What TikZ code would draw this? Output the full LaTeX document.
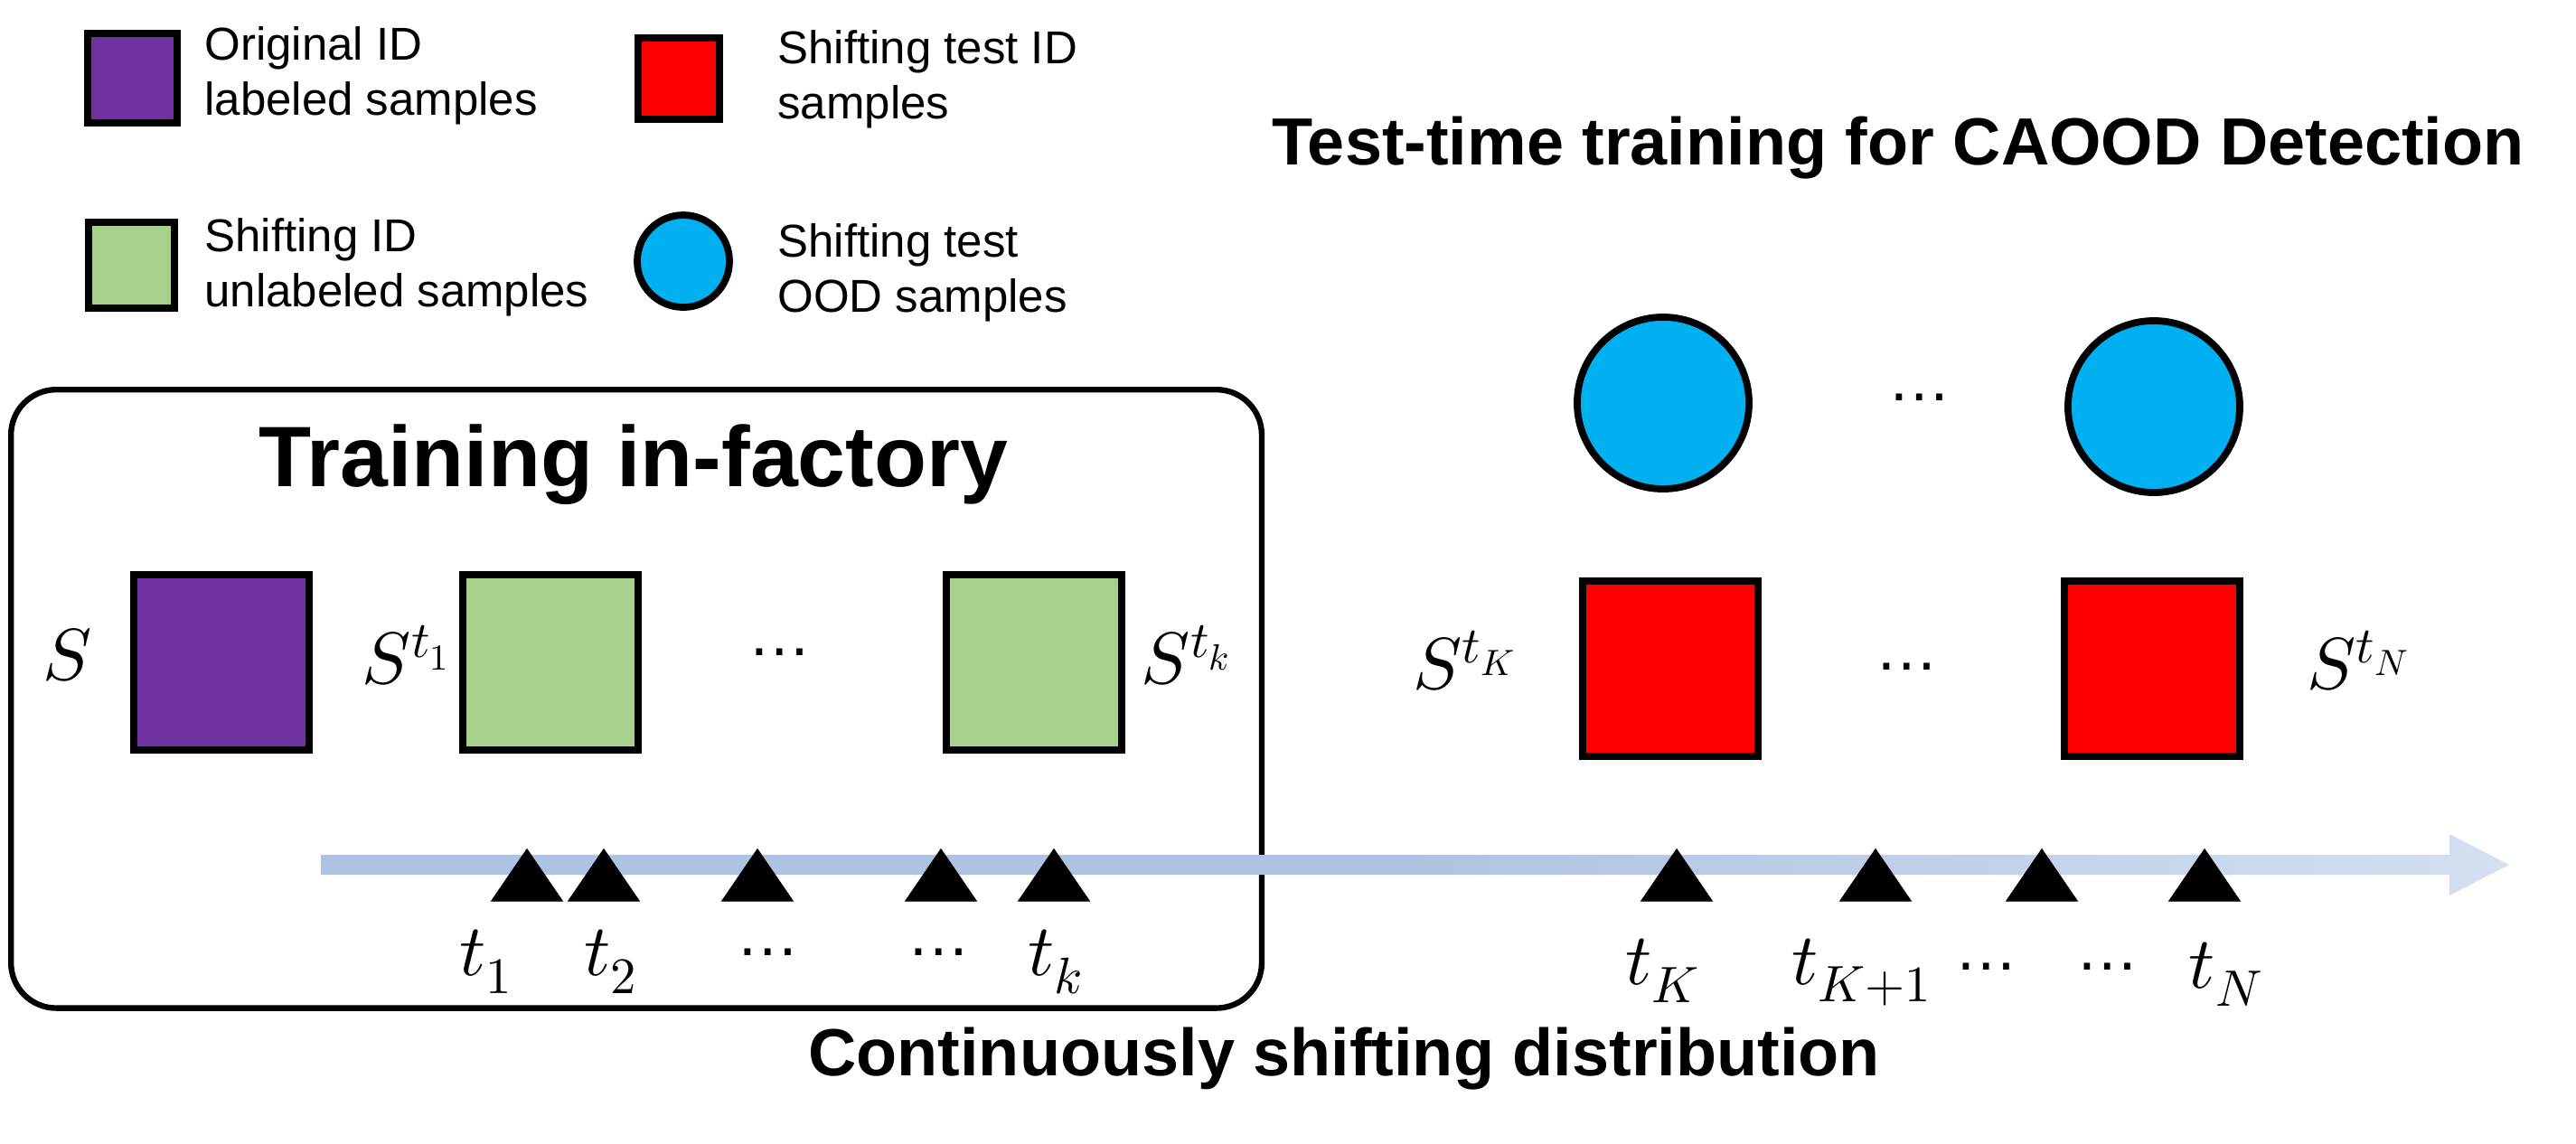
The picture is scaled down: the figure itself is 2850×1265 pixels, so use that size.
\documentclass[tikz,border=0pt]{standalone}
\usepackage{fontspec}
\setmainfont{Liberation Sans}
\usepackage{unicode-math}
\begin{document}
\begin{tikzpicture}[x=0.01cm,y=-0.01cm,
  sq/.style={draw=black,line width=2.2pt,minimum width=#1*0.01cm,minimum height=#1*0.01cm,inner sep=0,anchor=north west},
  leg/.style={font=\fontsize{14.5}{17.5}\selectfont,align=left,anchor=west},
  mth/.style={font=\fontsize{23}{26}\selectfont},
  dts/.style={font=\fontsize{20}{24}\selectfont},
  tri/.style={fill=black,draw=black},
  big/.style={font=\bfseries\fontsize{21}{24}\selectfont}]
\definecolor{purp}{RGB}{112,48,160}
\definecolor{grn}{RGB}{169,209,142}
\definecolor{cy}{RGB}{0,176,240}
\definecolor{ar}{RGB}{160,184,222}
\useasboundingbox (0,0) rectangle (2850,1265);
% legend
\node[sq=99,fill=purp] (l1) at (93,33) {};
\node[leg] (l1t) at (214,84) {Original ID\\labeled samples};
\node[sq=90,fill=red] (l2) at (702,38) {};
\node[leg] (l2t) at (848,88) {Shifting test ID\\samples};
\node[sq=95,fill=grn] (l3) at (94,242) {};
\node[leg] (l3t) at (214,296) {Shifting ID\\unlabeled samples};
\node[draw,line width=2.2pt,fill=cy,circle,minimum size=1.02cm,inner sep=0] (l4) at (756,289) {};
\node[leg] (l4t) at (848,302) {Shifting test\\OOD samples};
% titles
\node[big] (tt) at (2100,164) {Test-time training for CAOOD Detection};
\node[big] (ct) at (1487,1172) {Continuously shifting distribution};
% box
\node[draw,line width=1.8pt,rounded corners=0.5cm,minimum width=13.83cm,minimum height=6.84cm,anchor=north west] (box) at (9,428) {};
\node[font=\bfseries\fontsize{27}{32}\selectfont] (tr) at (701,514) {Training in-factory};
% arrow
\shade[left color=ar!85,right color=ar!45,middle color=ar!85] (355,946) -- (2710,946) -- (2710,923) -- (2776,957) -- (2710,991) -- (2710,968) -- (355,968) -- cycle;
\coordinate (as) at (355,957);
% squares
\node[sq=194,fill=purp] (s0) at (144,632) {};
\node[sq=194,fill=grn] (s1) at (508,632) {};
\node[sq=194,fill=grn] (s2) at (1043,632) {};
\node[sq=194,fill=red] (s3) at (1747,639) {};
\node[sq=194,fill=red] (s4) at (2280,639) {};
\node[draw,line width=2.2pt,fill=cy,circle,minimum size=1.9cm,inner sep=0] (c1) at (1840,446) {};
\node[draw,line width=2.2pt,fill=cy,circle,minimum size=1.9cm,inner sep=0] (c2) at (2383,450) {};
\node[dts] (d1) at (2124,440) {…};
\node[mth] (S) at (75,725) {$S$};
\node[mth] (St1) at (450,725) {$S^{t_1}$};
\node[dts] (d2) at (863,722) {…};
\node[mth] (Stk) at (1313,725) {$S^{t_k}$};
\node[mth] (StK) at (1621,731) {$S^{t_K}$};
\node[dts] (d3) at (2110,738) {…};
\node[mth] (StN) at (2610,731) {$S^{t_N}$};
% triangles
\foreach \x in {583,668,838,1041,1166,1855,2075,2259,2439}
  \draw[tri] (\x-39,997) -- (\x,940) -- (\x+39,997) -- cycle;
% t labels
\node[mth] (t1) at (538,1064) {$t_1$};
\node[mth] (t2) at (676,1064) {$t_2$};
\node[dts] (d4) at (850,1054) {…};
\node[dts] (d5) at (1039,1054) {…};
\node[mth] (tk) at (1168,1064) {$t_k$};
\node[mth] (tK) at (1840,1074) {$t_K$};
\node[mth] (tK1) at (2060,1076) {$t_{K+1}$};
\node[dts] (d6) at (2198,1070) {…};
\node[dts] (d7) at (2332,1070) {…};
\node[mth] (tN) at (2463,1078) {$t_N$};
\end{tikzpicture}
\end{document}
